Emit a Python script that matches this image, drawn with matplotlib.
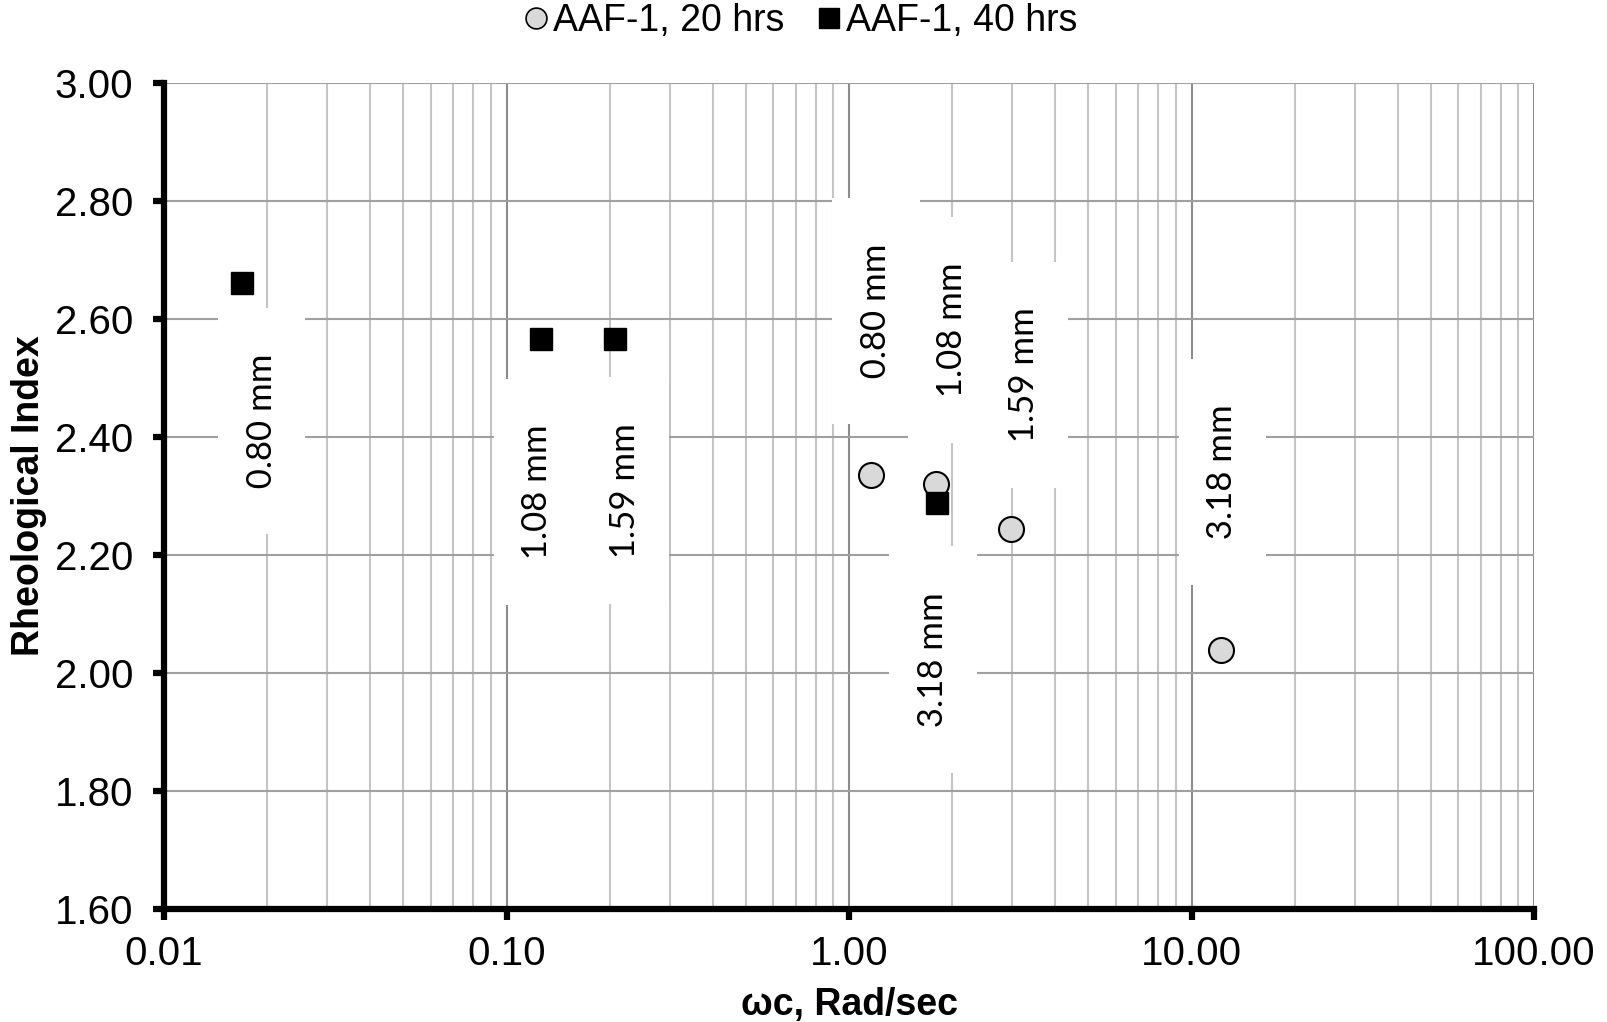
import numpy as np
import matplotlib
matplotlib.use("Agg")
import matplotlib.pyplot as plt
from matplotlib.lines import Line2D
from matplotlib.ticker import FixedLocator, LogLocator, FuncFormatter, NullFormatter

# data
w20 = [1.157, 1.80, 2.98, 12.2]
ri20 = [2.336, 2.32, 2.244, 2.039]
lab20 = ["0.80 mm", "1.08 mm", "1.59 mm", "3.18 mm"]

w40 = [0.0169, 0.1265, 0.208, 1.81]
ri40 = [2.661, 2.566, 2.566, 2.289]
lab40 = ["0.80 mm", "1.08 mm", "1.59 mm", "3.18 mm"]

# label offsets in points (layout only)
off20 = [(4, 118), (11, 111), (9, 111), (1, 128)]
off40 = [(14, -99), (-3, -110), (7, -109), (-3, -113)]

plt.rcParams['font.family'] = ['Liberation Sans', 'DejaVu Sans']

fig = plt.figure(figsize=(16.08, 10.22), dpi=100)
ax = fig.add_axes([0.102, 0.1106, 0.852, 0.808])

ax.set_xscale('log')
ax.set_xlim(0.01, 100)
ax.set_ylim(1.6, 3.0)

ax.yaxis.set_major_locator(FixedLocator(np.arange(1.6, 3.01, 0.2)))
ax.xaxis.set_major_locator(LogLocator(base=10, numticks=10))
ax.xaxis.set_minor_locator(LogLocator(base=10, subs=np.arange(2, 10), numticks=20))
ax.xaxis.set_minor_formatter(NullFormatter())
ax.xaxis.set_major_formatter(FuncFormatter(lambda v, p: f"{v:.2f}"))
ax.yaxis.set_major_formatter(FuncFormatter(lambda v, p: f"{v:.2f}"))

ax.grid(True, axis='y', which='major', color='#a0a0a0', lw=1.5, zorder=0)
ax.grid(True, axis='x', which='major', color='#8c8c8c', lw=1.5, zorder=0)
ax.grid(True, axis='x', which='minor', color='#c4c4c4', lw=1.5, zorder=0)

for s in ['top', 'right']:
    ax.spines[s].set_visible(False)
for s in ['left', 'bottom']:
    ax.spines[s].set_linewidth(4.5)
    ax.spines[s].set_zorder(5)

ax.tick_params(axis='both', which='major', labelsize=29, width=4.5, length=8, direction='out')
ax.tick_params(axis='y', pad=14)
ax.tick_params(axis='x', pad=11)
ax.tick_params(axis='x', which='minor', length=0)

ax.set_xlabel("ωc, Rad/sec", fontsize=27, fontweight='bold', labelpad=10)
ax.set_ylabel("Rheological Index", fontsize=27, fontweight='bold', labelpad=6)

lfont = ['Lato', 'DejaVu Sans']
box = dict(boxstyle='square,pad=0.8', fc='white', ec='none')
for x, y, t, o in zip(w40, ri40, lab40, off40):
    ax.annotate("  " + t + "  ", (x, y), xytext=o, textcoords='offset points',
                rotation=90, ha='center', va='center', fontsize=25, family=lfont,
                bbox=box, zorder=3)
for x, y, t, o in zip(w20, ri20, lab20, off20):
    ax.annotate("  " + t + "  ", (x, y), xytext=o, textcoords='offset points',
                rotation=90, ha='center', va='center', fontsize=25, family=lfont,
                bbox=box, zorder=3)

ax.plot(w20, ri20, 'o', ms=18, mfc='#d9d9d9', mec='black', mew=1.5, zorder=6, clip_on=False)
ax.plot(w40, ri40, 's', ms=16.5, mfc='black', mec='black', mew=1, zorder=7, clip_on=False)

handles = [Line2D([], [], ls='none', marker='o', ms=15, mfc='#d9d9d9', mec='black', mew=1.2),
           Line2D([], [], ls='none', marker='s', ms=15, mfc='black', mec='black')]
fig.legend(handles, ['AAF-1, 20 hrs', 'AAF-1, 40 hrs'], loc='center',
           bbox_to_anchor=(0.497, 0.979), ncol=2, frameon=False,
           fontsize=27, handletextpad=0.05, columnspacing=0.8, handlelength=0.8)

fig.savefig("out.png", dpi=100)
